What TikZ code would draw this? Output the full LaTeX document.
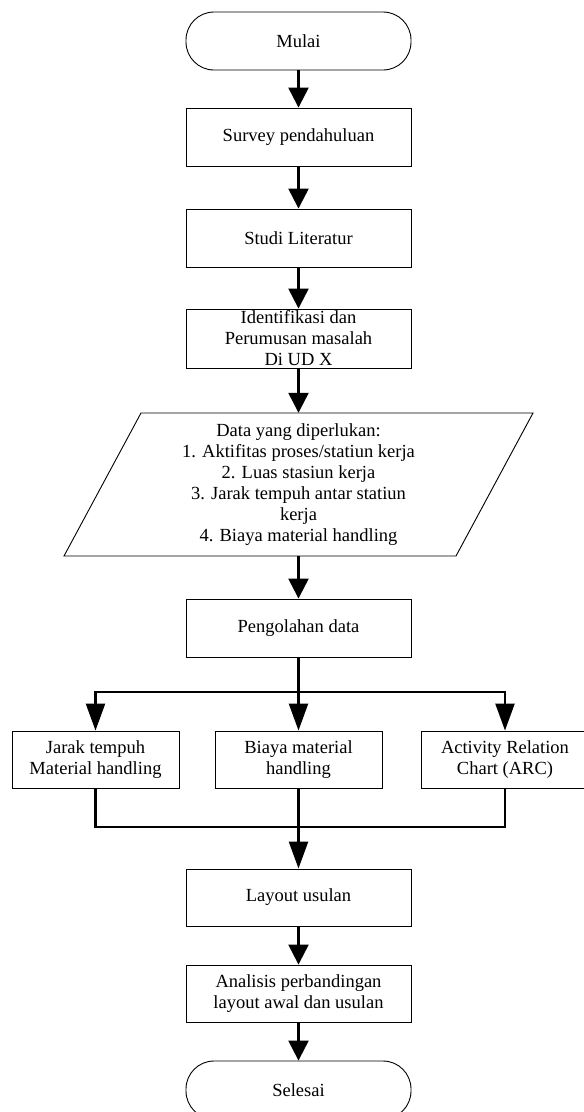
\documentclass[tikz,border=0pt]{standalone}
\usepackage{fontspec}
\setmainfont{Liberation Serif}
\usetikzlibrary{arrows.meta}
\begin{document}
\begin{tikzpicture}[x=1pt,y=-1pt,
  every node/.style={font=\fontsize{18.5}{21}\selectfont, align=center, inner sep=0pt},
  procbox/.style={draw, line width=0.9pt, minimum width=225pt, minimum height=58pt},
  smallbox/.style={draw, line width=0.9pt, minimum width=167pt, minimum height=57pt},
  termbox/.style={draw, line width=0.9pt, rounded corners=28pt, minimum width=225pt, minimum height=58pt},
  flow/.style={line width=2.4pt, -{Triangle[length=20pt,width=20pt]}},
  flowlong/.style={line width=2.4pt, -{Triangle[length=27pt,width=19pt]}},
  wire/.style={line width=2.4pt}]
\useasboundingbox (0,0) rectangle (584,1112);
\fill[white] (0,0) rectangle (584,1112);

\node[termbox] (mulai) at (298.5,41) {Mulai};
\node[procbox] (survey) at (298.5,137) {Survey pendahuluan};
\node[procbox] (studi) at (298.5,238) {Studi Literatur};
\node[procbox, minimum height=59pt] (ident) at (298.5,338.5) {};
\node (identtext) at (ident.center) {Identifikasi dan\\Perumusan masalah\\Di UD X};

\node[minimum width=392pt, minimum height=143pt] (data) at (298.5,484.5)
  {Data yang diperlukan:\\1. Aktifitas proses/statiun kerja\\2. Luas stasiun kerja\\3. Jarak tempuh antar statiun\\kerja\\4. Biaya material handling};
\draw[line width=0.9pt] (141,413) -- (533,413) -- (456,556) -- (64,556) -- cycle;

\node[procbox] (peng) at (298.5,628) {Pengolahan data};

\node[smallbox] (jarak) at (95.5,759.5) {Jarak tempuh\\Material handling};
\node[smallbox] (biaya) at (298.5,759.5) {Biaya material\\handling};
\node[smallbox] (arc) at (505,759.5) {Activity Relation\\Chart (ARC)};

\node[procbox, minimum height=57pt] (layout) at (298.5,897.5) {Layout usulan};
\node[procbox, minimum height=57pt] (anal) at (298.5,993.5) {Analisis perbandingan\\layout awal dan usulan};
\node[termbox] (selesai) at (298.5,1090) {Selesai};

\coordinate (split) at (298.5,692);
\coordinate (join) at (298.5,827);

\draw[flow] (mulai) -- (survey);
\draw[flow] (survey) -- (studi);
\draw[flow] (studi) -- (ident);
\draw[flow] (ident) -- (data);
\draw[flow] (data) -- (peng);

\draw[flowlong] (peng) -- (biaya);
\draw[flowlong] (split) -| (jarak);
\draw[flowlong] (split) -| (arc);

\draw[wire] (jarak) |- (join);
\draw[wire] (arc) |- (join);
\draw[flowlong] (biaya) -- (layout);

\draw[flow] (layout) -- (anal);
\draw[flow] (anal) -- (selesai);
\end{tikzpicture}
\end{document}
